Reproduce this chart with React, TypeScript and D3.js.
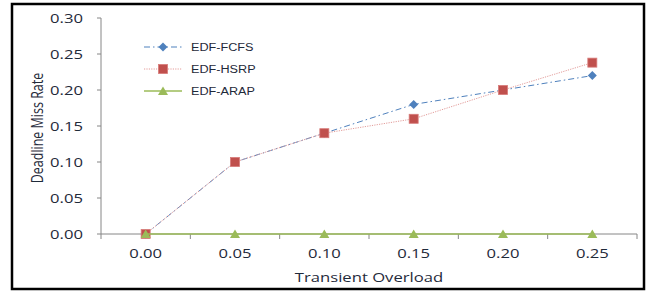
import React from 'react';
import * as d3 from 'd3';

const categories = ['0.00', '0.05', '0.10', '0.15', '0.20', '0.25'];
const fcfs = [0, 0.1, 0.14, 0.18, 0.2, 0.22];
const hsrp = [0, 0.1, 0.14, 0.16, 0.2, 0.238];
const arap = [0, 0, 0, 0, 0, 0];
const yTicks = [0, 0.05, 0.1, 0.15, 0.2, 0.25, 0.3];

const series = [
  { name: 'EDF-FCFS', values: fcfs, color: '#4F81BD', dash: '6,3,1.5,3', width: 1, marker: 'diamond' },
  { name: 'EDF-HSRP', values: hsrp, color: '#E39C9A', dash: '1.2,1.2', width: 1, marker: 'square' },
  { name: 'EDF-ARAP', values: arap, color: '#9BBB59', dash: null, width: 1.3, marker: 'triangle' },
];

const markerColor = { diamond: '#4F81BD', square: '#C0504D', triangle: '#9BBB59' };

function Marker({ type, x, y }) {
  if (type === 'diamond') {
    return <path d={`M${x},${y - 4.5}L${x + 4.5},${y}L${x},${y + 4.5}L${x - 4.5},${y}Z`} fill={markerColor.diamond} />;
  }
  if (type === 'square') {
    return <rect x={x - 4.5} y={y - 4.5} width={9} height={9} fill={markerColor.square} stroke="#D77B79" strokeWidth={0.8} />;
  }
  return <path d={`M${x},${y - 4.5}L${x + 5},${y + 4}L${x - 5},${y + 4}Z`} fill={markerColor.triangle} />;
}

const font = '"Open Sans", "Noto Sans", sans-serif';
const stretch = 1.28;

// the source picture is stretched sideways, so the text is too
function WideText({ x, y, anchor = 'middle', size = 13, k = stretch, family = font, children }) {
  return (
    <text transform={`translate(${x},${y}) scale(${k},1)`} dy="0.35em" textAnchor={anchor}
      fontFamily={family} fontSize={size} fill="#1f2a3a">
      {children}
    </text>
  );
}

export default function App() {
  const W = 648, H = 291;
  const left = 101, right = 637, top = 18, bottom = 234;

  const x = d3.scaleBand().domain(categories).range([left, right]);
  const y = d3.scaleLinear().domain([0, 0.3]).range([bottom, top]);
  const cx = (c) => x(c) + x.bandwidth() / 2;
  const line = d3.line().x((d) => d[0]).y((d) => d[1]);
  const axisColor = '#868686';

  return (
    <svg width={W} height={H} style={{ position: 'absolute', left: 0, top: 0 }}>
      <rect x={0} y={0} width={W} height={H} fill="#fff" />
      <rect x={12} y={4} width={632} height={285} fill="none" stroke="#000" strokeWidth={2.5} />

      {/* y axis */}
      <line x1={left} x2={left} y1={top} y2={bottom} stroke={axisColor} />
      {yTicks.map((t) => (
        <g key={t}>
          <line x1={left - 4} x2={left} y1={y(t)} y2={y(t)} stroke={axisColor} />
          <WideText x={83} y={y(t)} anchor="end">{t.toFixed(2)}</WideText>
        </g>
      ))}
      <text transform={`translate(37,128) scale(${stretch},1) rotate(-90)`} dy="0.35em" textAnchor="middle"
        fontFamily={font} fontSize={12.5} fill="#1f2a3a">
        Deadline Miss Rate
      </text>

      {/* x axis */}
      <line x1={left} x2={right} y1={bottom} y2={bottom} stroke={axisColor} />
      {d3.range(categories.length + 1).map((i) => {
        const px = left + i * x.step();
        return <line key={i} x1={px} x2={px} y1={bottom} y2={bottom + 5} stroke={axisColor} />;
      })}
      {categories.map((c) => (
        <WideText key={c} x={cx(c)} y={253}>{c}</WideText>
      ))}
      <WideText x={(left + right) / 2} y={277}>Transient Overload</WideText>

      {/* series */}
      {series.map((s) => {
        const pts = s.values.map((v, i) => [cx(categories[i]), y(v)]);
        return (
          <g key={s.name}>
            <path d={line(pts)} fill="none" stroke={s.color} strokeWidth={s.width} strokeDasharray={s.dash || undefined} />
            {pts.map((p, i) => (
              <Marker key={i} type={s.marker} x={p[0]} y={p[1]} />
            ))}
          </g>
        );
      })}

      {/* legend */}
      {series.map((s, i) => {
        const ly = 47 + i * 22;
        return (
          <g key={s.name}>
            <line x1={144} x2={182} y1={ly} y2={ly} stroke={s.color} strokeWidth={s.width} strokeDasharray={s.dash || undefined} />
            <Marker type={s.marker} x={163} y={ly} />
            <WideText x={191} y={ly} anchor="start" size={11.5} k={1.1} family='"Liberation Sans", Arial, sans-serif'>
              {s.name}
            </WideText>
          </g>
        );
      })}
    </svg>
  );
}
